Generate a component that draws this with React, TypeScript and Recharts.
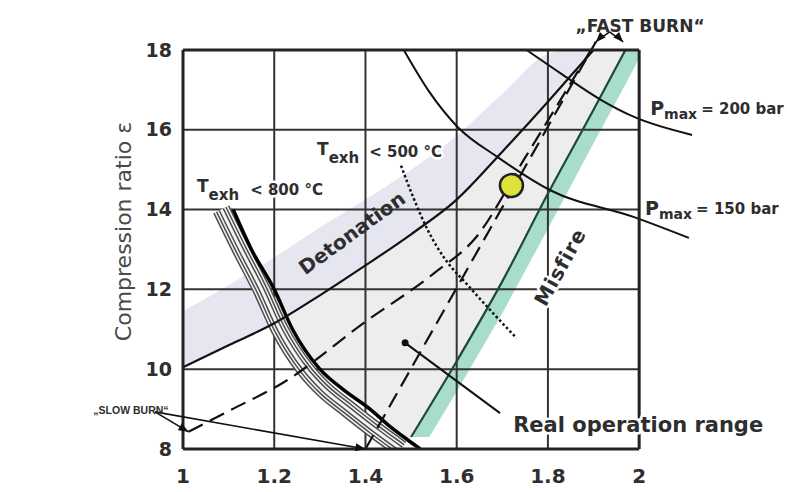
import React from 'react';
import { ComposedChart, XAxis, YAxis, Line, Area, ReferenceLine, ReferenceDot } from 'recharts';

// ---- axes ----
const xTicks = [1, 1.2, 1.4, 1.6, 1.8, 2];
const yTicks = [8, 10, 12, 14, 16, 18];
const xGrid = [1.2, 1.4, 1.6, 1.8];
const yGrid = [10, 12, 14, 16];

// ---- detonation limit and its band ----
const detX = [1.0, 1.1, 1.2, 1.3, 1.4, 1.5, 1.6, 1.7, 1.8, 1.85, 1.9];
const detY = [10.05, 10.6, 11.15, 11.85, 12.6, 13.38, 14.25, 15.45, 16.7, 17.35, 18.0];
const detBandTopY = [11.45, 12.1, 12.8, 13.55, 14.25, 15.0, 15.85, 16.9, 17.9, 18.0, 18.0];

// ---- misfire limit and its band ----
const misfireX = [1.5, 1.6, 1.7, 1.8, 1.9, 1.97];
const misfireY = [8.3, 10.2, 12.2, 14.4, 16.5, 18.0];
const misBandX = [1.5, 1.54, 1.6, 1.7, 1.8, 1.9, 1.97, 2.0];
const misBandLow = [8.3, 8.3, 9.44, 11.4, 13.52, 15.66, 17.14, 17.79];
const misBandHigh = [8.3, 9.06, 10.2, 12.2, 14.4, 16.5, 18.0, 18.0];

// ---- operating region (between limits) ----
const opX = [1.227, 1.25, 1.3, 1.35, 1.4, 1.45, 1.495, 1.55, 1.6, 1.7, 1.8, 1.9, 1.97];
const opLow = [11.33, 10.83, 10.0, 9.5, 9.05, 8.6, 8.2, 9.25, 10.2, 12.2, 14.4, 16.5, 18.0];
const opHigh = [11.34, 11.5, 11.85, 12.22, 12.6, 12.99, 13.34, 13.81, 14.25, 15.45, 16.7, 18.0, 18.0];

// ---- T_exh < 800 °C limit and hatched band ----
const t800X = [1.11, 1.15, 1.2, 1.24, 1.3, 1.35, 1.41, 1.45, 1.49, 1.52];
const t800Y = [14.0, 13.0, 12.0, 11.0, 10.0, 9.5, 9.0, 8.6, 8.25, 8.0];
const hatchX = [1.084, 1.127, 1.172, 1.212, 1.268, 1.308, 1.362, 1.418, 1.478];
const hatchY = [14.0, 13.0, 12.0, 11.0, 10.0, 9.5, 9.0, 8.5, 8.0];

// ---- T_exh < 500 °C (dotted) ----
const t500X = [1.478, 1.505, 1.536, 1.575, 1.62, 1.68, 1.731];
const t500Y = [15.1, 14.3, 13.5, 12.75, 12.16, 11.4, 10.78];

// ---- peak pressure curves ----
const p150X = [1.484, 1.54, 1.602, 1.689, 1.804, 1.989, 2.109];
const p150Y = [18.0, 16.95, 16.07, 15.32, 14.49, 13.81, 13.29];
const p200X = [1.753, 1.827, 1.916, 1.989, 2.116];
const p200Y = [18.0, 17.42, 16.75, 16.32, 15.87];

// ---- burn-rate paths (dashed) ----
const pathAX = [1.012, 1.1, 1.222, 1.4, 1.55, 1.642, 1.75, 1.905];
const pathAY = [8.43, 8.95, 9.68, 11.19, 12.4, 13.3, 15.3, 18.2];
const pathBX = [1.4, 1.671, 1.905];
const pathBY = [8.0, 13.47, 18.2];

// ---- marked operating point ----
const opPointX = [1.72];
const opPointY = [14.6];

const pts = (xs: number[], ys: number[]) => xs.map((x, i) => ({ x, y: ys[i] }));
const rng = (xs: number[], lo: number[], hi: number[]) => xs.map((x, i) => ({ x, r: [lo[i], hi[i]] }));

const FONT = '"DejaVu Sans", Verdana, sans-serif';
const INK = '#2e2e2e';

const note = (key: string, x: number, y: number, render: (cx: number, cy: number) => React.ReactNode) => (
  <ReferenceDot
    key={key}
    x={x}
    y={y}
    r={0}
    fill="none"
    stroke="none"
    ifOverflow="visible"
    label={{
      content: (p: any) => {
        const vb = p.viewBox || {};
        const cx = (vb.x ?? 0) + (vb.width ?? 0) / 2;
        const cy = (vb.y ?? 0) + (vb.height ?? 0) / 2;
        return render(cx, cy);
      },
    }}
  />
);

const arrowHead = (key: string, x: number, y: number, angle: number) => (
  <ReferenceDot
    key={key}
    x={x}
    y={y}
    r={4}
    ifOverflow="visible"
    shape={(p: any) => (
      <path d="M0,0 L-10,-4 L-10,4 Z" transform={`translate(${p.cx},${p.cy}) rotate(${angle})`} fill="#111" />
    )}
  />
);

const seg = (key: string, x1: number, y1: number, x2: number, y2: number, stroke: string, w: number) => (
  <ReferenceLine
    key={key}
    segment={[{ x: x1, y: y1 }, { x: x2, y: y2 }]}
    stroke={stroke}
    strokeWidth={w}
    ifOverflow="visible"
  />
);

const halo = { stroke: '#fff', strokeWidth: 5, paintOrder: 'stroke' as any, strokeLinejoin: 'round' as any };

const hatchStripes = [18, 15, 12, 9, 6, 3];

export default function App() {
  return (
    <div style={{ position: 'absolute', left: 0, top: 0, width: 787, height: 492, background: '#fff' }}>
      <ComposedChart width={787} height={492} margin={{ top: 10, right: 11, bottom: 0, left: 0 }}>
        <XAxis
          type="number"
          dataKey="x"
          domain={[1, 2.3]}
          ticks={xTicks}
          interval={0}
          allowDataOverflow
          axisLine={false}
          tickLine={false}
          tickMargin={14}
          height={43}
          tick={{ fill: INK, fontSize: 20, fontFamily: FONT, fontWeight: 'bold' }}
        />
        <YAxis
          type="number"
          domain={[8, 19]}
          ticks={yTicks}
          interval={0}
          allowDataOverflow
          axisLine={false}
          tickLine={false}
          tickMargin={5}
          width={183}
          tick={{ fill: INK, fontSize: 19, fontFamily: FONT, fontWeight: 'bold' }}
          label={{
            content: (p: any) => {
              const vb = p.viewBox || { x: 0, y: 10, height: 439 };
              const cx = vb.x + 123;
              const cy = vb.y + vb.height / 2 + 2;
              return (
                <text
                  x={cx}
                  y={cy}
                  transform={`rotate(-90 ${cx} ${cy})`}
                  textAnchor="middle"
                  dominantBaseline="central"
                  fontFamily={FONT}
                  fontSize={22}
                  fill="#4a4a4a"
                >
                  Compression ratio ε
                </text>
              );
            },
          }}
        />

        {/* fills */}
        <Area data={rng(opX, opLow, opHigh)} dataKey="r" type="linear" fill="#ededed" fillOpacity={1} stroke="none" isAnimationActive={false} />
        <Area data={rng(misBandX, misBandLow, misBandHigh)} dataKey="r" type="linear" fill="#a8ddcc" fillOpacity={1} stroke="none" isAnimationActive={false} />

        {/* grid */}
        {xGrid.map((v) => seg('gx' + v, v, 8, v, 18, '#333', 2))}
        {yGrid.map((v) => seg('gy' + v, 1, v, 2, v, '#333', 2))}

        <Area data={rng(detX, detY, detBandTopY)} dataKey="r" type="monotone" fill="#e6e6f1" fillOpacity={1} stroke="none" isAnimationActive={false} />

        {/* hatched band along the 800 °C limit */}
        {hatchStripes.map((w, i) => (
          <Line
            key={'h' + i}
            data={pts(hatchX, hatchY)}
            dataKey="y"
            type="monotone"
            stroke={i % 2 === 0 ? '#4d4d4d' : '#f4f4f4'}
            strokeWidth={w}
            dot={false}
            activeDot={false}
            isAnimationActive={false}
          />
        ))}
        <Line data={pts(t800X, t800Y)} dataKey="y" type="monotone" stroke="#000" strokeWidth={3.5} dot={false} activeDot={false} isAnimationActive={false} />

        {/* limit curves */}
        <Line data={pts(detX, detY)} dataKey="y" type="monotone" stroke="#111" strokeWidth={2.2} dot={false} activeDot={false} isAnimationActive={false} />
        <Line data={pts(misfireX, misfireY)} dataKey="y" type="monotone" stroke="#1d4a37" strokeWidth={2.2} dot={false} activeDot={false} isAnimationActive={false} />
        <Line data={pts(p150X, p150Y)} dataKey="y" type="monotone" stroke="#111" strokeWidth={2} dot={false} activeDot={false} isAnimationActive={false} />
        <Line data={pts(p200X, p200Y)} dataKey="y" type="monotone" stroke="#111" strokeWidth={2} dot={false} activeDot={false} isAnimationActive={false} />
        <Line data={pts(t500X, t500Y)} dataKey="y" type="monotone" stroke="#111" strokeWidth={2.5} strokeDasharray="2.5 2.5" dot={false} activeDot={false} isAnimationActive={false} />
        <Line data={pts(pathAX, pathAY)} dataKey="y" type="monotone" stroke="#111" strokeWidth={2.2} strokeDasharray="16 8" dot={false} activeDot={false} isAnimationActive={false} />
        <Line data={pts(pathBX, pathBY)} dataKey="y" type="linear" stroke="#111" strokeWidth={2.2} strokeDasharray="16 8" dot={false} activeDot={false} isAnimationActive={false} />

        {/* frame */}
        {seg('fl', 1, 8, 1, 18, '#222', 3)}
        {seg('fr', 2, 8, 2, 18, '#222', 3)}
        {seg('ft', 1, 18, 2, 18, '#222', 3)}
        {seg('fb', 1, 8, 2, 8, '#222', 3)}

        {/* FAST BURN pointers */}
        {seg('fa1', 1.935, 18.45, 1.905, 18.2, '#111', 1.6)}
        {seg('fa2', 1.935, 18.45, 1.965, 18.2, '#111', 1.6)}
        {arrowHead('fh1', 1.905, 18.2, 134)}
        {arrowHead('fh2', 1.965, 18.2, 46)}

        {/* SLOW BURN pointers */}
        {seg('sa1', 0.9386, 8.93, 1.012, 8.43, '#111', 1.6)}
        {seg('sa2', 0.9386, 8.93, 1.4, 8.0, '#111', 1.6)}
        {arrowHead('sh1', 1.012, 8.43, 30)}
        {arrowHead('sh2', 1.4, 8.0, 10)}

        {/* real operation range pointer */}
        {seg('rp', 1.487, 10.66, 1.695, 8.9, '#111', 2)}
        <ReferenceDot x={1.487} y={10.66} r={3.5} fill="#111" stroke="none" ifOverflow="visible" />

        {/* operating point */}
        <ReferenceDot x={opPointX[0]} y={opPointY[0]} r={11.5} fill="#dfe23c" stroke="#222" strokeWidth={2.5} ifOverflow="visible" />

        {/* texts */}
        {note('tFast', 2.002, 18.45, (cx, cy) => (
          <text x={cx} y={cy} textAnchor="middle" fontFamily={FONT} fontWeight="bold" fontSize={17} fill={INK}>„FAST BURN“</text>
        ))}
        {note('tSlow', 0.886, 8.98, (cx, cy) => (
          <text x={cx} y={cy} textAnchor="middle" dominantBaseline="central" fontFamily='"Liberation Sans", Arial, sans-serif' fontWeight="bold" fontSize={10.5} fill={INK}>„SLOW BURN“</text>
        ))}
        {note('t800', 1.0307, 14.44, (cx, cy) => (
          <text x={cx} y={cy} fontFamily={FONT} fontWeight="bold" fill={INK} {...halo}>
            <tspan fontSize={17}>T</tspan>
            <tspan fontSize={15} dy={8}>exh</tspan>
            <tspan fontSize={15} dy={-5} dx={11}>&lt; 800 °C</tspan>
          </text>
        ))}
        {note('t500', 1.2939, 15.37, (cx, cy) => (
          <text x={cx} y={cy} fontFamily={FONT} fontWeight="bold" fill={INK} {...halo}>
            <tspan fontSize={17}>T</tspan>
            <tspan fontSize={15} dy={8}>exh</tspan>
            <tspan fontSize={15} dy={-6} dx={10}>&lt; 500 °C</tspan>
          </text>
        ))}
        {note('tDet', 1.3706, 13.414, (cx, cy) => (
          <text x={cx} y={cy} transform={`rotate(-36 ${cx} ${cy})`} textAnchor="middle" dominantBaseline="central" fontFamily={FONT} fontWeight="bold" fontSize={20} fill={INK}>Detonation</text>
        ))}
        {note('tMis', 1.8268, 12.561, (cx, cy) => (
          <text x={cx} y={cy} transform={`rotate(-61 ${cx} ${cy})`} textAnchor="middle" dominantBaseline="central" fontFamily={FONT} fontWeight="bold" fontSize={20} letterSpacing={1} fill={INK} {...halo}>Misfire</text>
        ))}
        {note('tReal', 1.9978, 8.426, (cx, cy) => (
          <text x={cx} y={cy} textAnchor="middle" fontFamily={FONT} fontWeight="bold" fontSize={21} fill={INK} {...halo}>Real operation range</text>
        ))}
        {note('tP200', 2.0241, 16.37, (cx, cy) => (
          <text x={cx} y={cy} fontFamily={FONT} fontWeight="bold" fill={INK}>
            <tspan fontSize={19}>P</tspan>
            <tspan fontSize={14} dy={4}>max</tspan>
            <tspan fontSize={15} dy={-5} dx={4}>= 200 bar</tspan>
          </text>
        ))}
        {note('tP150', 2.013, 13.865, (cx, cy) => (
          <text x={cx} y={cy} fontFamily={FONT} fontWeight="bold" fill={INK}>
            <tspan fontSize={19}>P</tspan>
            <tspan fontSize={14} dy={4}>max</tspan>
            <tspan fontSize={15} dy={-5} dx={4}>= 150 bar</tspan>
          </text>
        ))}
      </ComposedChart>
    </div>
  );
}
